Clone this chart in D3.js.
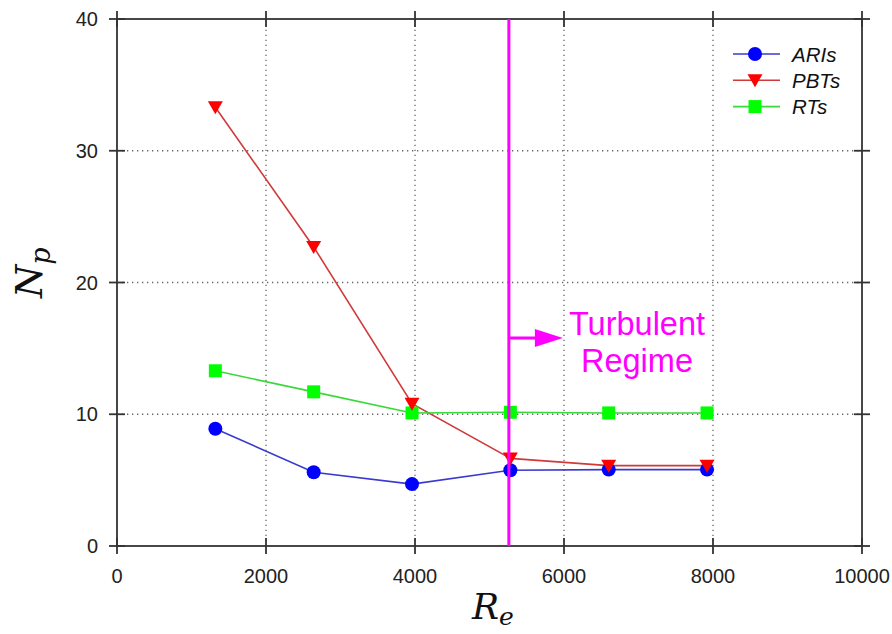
<!DOCTYPE html>
<html><head><meta charset="utf-8">
<script src="https://cdn.jsdelivr.net/npm/d3@7"></script>
<style>body{margin:0;background:#fff}svg{display:block}</style>
</head><body>
<svg id="c" width="892" height="634"></svg>
<script>
const reynolds = [1320, 2640, 3960, 5280, 6600, 7920];
const ARIs = [8.9, 5.6, 4.7, 5.75, 5.8, 5.8];
const PBTs = [33.3, 22.7, 10.8, 6.65, 6.1, 6.1];
const RTs = [13.3, 11.7, 10.1, 10.15, 10.1, 10.1];
const xTicks = [0, 2000, 4000, 6000, 8000, 10000];
const yTicks = [0, 10, 20, 30, 40];
const turbulentRe = 5260;

const svg = d3.select('#c');
const x = d3.scaleLinear().domain([0, 10000]).range([117, 862]);
const y = d3.scaleLinear().domain([0, 40]).range([546, 19]);
const axisCol = '#333';

// grid
const g = svg.append('g');
g.selectAll('.gx').data(xTicks.slice(1, -1)).enter().append('line')
  .attr('x1', d => x(d)).attr('x2', d => x(d)).attr('y1', y(0)).attr('y2', y(40))
  .attr('stroke', '#666').attr('stroke-width', 1.3).attr('stroke-dasharray', '1.3,3.7');
g.selectAll('.gy').data(yTicks.slice(1, -1)).enter().append('line')
  .attr('y1', d => y(d)).attr('y2', d => y(d)).attr('x1', x(0)).attr('x2', x(10000))
  .attr('stroke', '#666').attr('stroke-width', 1.3).attr('stroke-dasharray', '1.3,3.7');

// series
const series = [
  {name: 'ARIs', vals: ARIs, line: '#3a3ad0', fill: '#0000ff', shape: 'circle'},
  {name: 'PBTs', vals: PBTs, line: '#d03a3a', fill: '#ff0000', shape: 'tri'},
  {name: 'RTs', vals: RTs, line: '#3ad83a', fill: '#00ff00', shape: 'square'}
];
function marker(sel, shape, fill) {
  if (shape === 'circle') sel.append('circle').attr('r', 7).attr('fill', fill);
  else if (shape === 'square') sel.append('rect').attr('x', -6.5).attr('y', -6.5).attr('width', 13).attr('height', 13).attr('fill', fill);
  else sel.append('path').attr('d', 'M-7.5,-6 L7.5,-6 L0,7 Z').attr('fill', fill);
}
const line = d3.line().x((d, i) => x(reynolds[i])).y(d => y(d));
series.forEach(s => {
  svg.append('path').datum(s.vals).attr('d', line).attr('fill', 'none')
    .attr('stroke', s.line).attr('stroke-width', 1.6);
});
[series[2], series[0], series[1]].forEach(s => {
  s.vals.forEach((v, i) => {
    const m = svg.append('g').attr('transform', `translate(${x(reynolds[i])},${y(v)})`);
    marker(m, s.shape, s.fill);
  });
});

// frame
const fr = svg.append('g').attr('stroke', axisCol).attr('stroke-width', 1.8);
fr.append('rect').attr('x', x(0)).attr('y', y(40)).attr('width', x(10000) - x(0)).attr('height', y(0) - y(40)).attr('fill', 'none');
xTicks.forEach(t => {
  fr.append('line').attr('x1', x(t)).attr('x2', x(t)).attr('y1', y(0) - 8).attr('y2', y(0) + 8);
  fr.append('line').attr('x1', x(t)).attr('x2', x(t)).attr('y1', y(40) - 8).attr('y2', y(40) + 8);
});
yTicks.forEach(t => {
  fr.append('line').attr('y1', y(t)).attr('y2', y(t)).attr('x1', x(0) - 8).attr('x2', x(0) + 8);
  fr.append('line').attr('y1', y(t)).attr('y2', y(t)).attr('x1', x(10000) - 8).attr('x2', x(10000) + 8);
});

// tick labels
const tf = 'Liberation Sans, Arial, sans-serif';
svg.selectAll('.xl').data(xTicks).enter().append('text')
  .attr('x', d => x(d)).attr('y', 583).attr('text-anchor', 'middle')
  .attr('font-family', tf).attr('font-size', 20).attr('fill', '#222').text(d => d);
svg.selectAll('.yl').data(yTicks).enter().append('text')
  .attr('x', 98).attr('y', d => y(d) + 7).attr('text-anchor', 'end')
  .attr('font-family', tf).attr('font-size', 20).attr('fill', '#222').text(d => d);

// axis titles
const sf = 'DejaVu Serif, serif';
const xt = svg.append('text').attr('x', 472).attr('y', 619).attr('font-family', sf)
  .attr('font-style', 'italic').attr('font-size', 36).attr('fill', '#111');
xt.append('tspan').text('R');
xt.append('tspan').attr('dy', 6).attr('font-size', 25).text('e');
const yt = svg.append('text').attr('transform', 'translate(42,298) rotate(-90)').attr('font-family', sf)
  .attr('font-style', 'italic').attr('font-size', 38).attr('fill', '#111');
yt.append('tspan').text('N');
yt.append('tspan').attr('dy', 8).attr('font-size', 27).text('p');

// turbulent line
const mg = '#ff00ff';
svg.append('line').attr('x1', x(turbulentRe)).attr('x2', x(turbulentRe)).attr('y1', y(40)).attr('y2', y(0))
  .attr('stroke', mg).attr('stroke-width', 3);
svg.append('line').attr('x1', x(turbulentRe)).attr('x2', x(turbulentRe) + 28).attr('y1', 338).attr('y2', 338)
  .attr('stroke', mg).attr('stroke-width', 3);
svg.append('path').attr('d', `M${x(turbulentRe) + 26},329 L${x(turbulentRe) + 54},338 L${x(turbulentRe) + 26},347 Z`).attr('fill', mg);
svg.append('text').attr('x', 637).attr('y', 335).attr('text-anchor', 'middle').attr('font-family', tf)
  .attr('font-size', 32.5).attr('fill', mg).text('Turbulent');
svg.append('text').attr('x', 637).attr('y', 372).attr('text-anchor', 'middle').attr('font-family', tf)
  .attr('font-size', 32.5).attr('fill', mg).text('Regime');

// legend
series.forEach((s, i) => {
  const ly = 54 + i * 26.3;
  svg.append('line').attr('x1', 733).attr('x2', 780).attr('y1', ly).attr('y2', ly)
    .attr('stroke', s.line).attr('stroke-width', 1.6);
  const m = svg.append('g').attr('transform', `translate(755,${ly})`);
  marker(m, s.shape, s.fill);
  svg.append('text').attr('x', 792).attr('y', ly + 7.5).attr('font-family', tf).attr('font-style', 'italic')
    .attr('font-size', 20.5).attr('fill', '#111').text(s.name);
});
</script>
</body></html>
